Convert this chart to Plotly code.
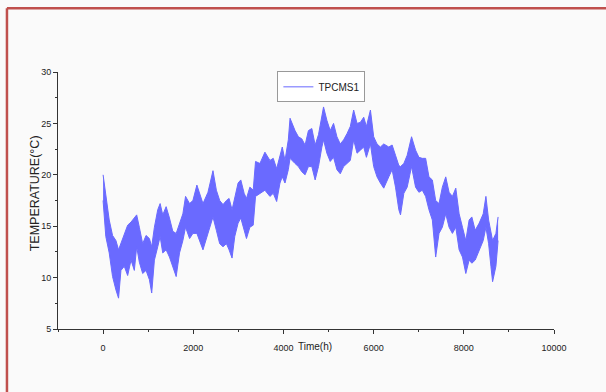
import plotly.graph_objects as go

# Sample times (hours) and the read daily high / low envelope of the TPCMS1 series (°C)
hours = [0, 60, 136, 210, 285, 343, 396, 470, 545, 619, 693, 745, 804, 878, 953, 1027, 1078,
         1138, 1212, 1265, 1323, 1398, 1472, 1546, 1621, 1695, 1769, 1829, 1918, 1992,
         2080, 2215, 2326, 2437, 2512, 2586, 2660, 2735, 2794, 2860, 2920, 2994, 3054, 3128,
         3180, 3255, 3329, 3381, 3478, 3589, 3700, 3774, 3849, 3923, 3974, 4034, 4108,
         4146, 4257, 4331, 4406, 4480, 4554, 4629, 4703, 4777, 4852, 4889, 4963, 5037, 5111,
         5186, 5260, 5334, 5409, 5483, 5557, 5632, 5706, 5780, 5840, 5929, 6001, 6075, 6150,
         6224, 6336, 6410, 6485, 6559, 6596, 6670, 6744, 6841, 6930, 7004, 7079, 7153, 7227,
         7302, 7376, 7450, 7524, 7599, 7673, 7747, 7822, 7896, 7970, 8044, 8118, 8178, 8252,
         8341, 8430, 8490, 8550, 8601, 8638, 8712, 8760]

temp_high = [20.0, 17.9, 15.6, 14.1, 13.6, 12.7, 13.3, 14.3, 15.1, 15.4, 15.8, 16.1, 14.9, 13.3,
             14.1, 13.8, 13.0, 14.9, 16.6, 17.2, 16.1, 16.9, 15.8, 14.5, 14.3, 15.3, 16.2, 17.9,
             17.2, 17.5, 19.0, 17.2, 18.3, 20.4, 18.5, 17.5, 17.1, 17.5, 17.7, 16.6, 17.7, 19.2,
             19.5, 18.2, 17.7, 18.8, 18.5, 21.3, 21.1, 22.2, 21.4, 21.6, 20.6, 21.9, 22.7, 21.4,
             23.4, 25.5, 24.3, 23.7, 23.5, 22.9, 24.3, 24.5, 22.9, 23.9, 25.5, 26.6, 25.3, 24.3,
             25.0, 23.7, 23.0, 23.4, 24.0, 24.7, 26.3, 25.0, 25.1, 25.6, 24.7, 26.3, 23.7, 23.0,
             22.7, 23.0, 22.7, 22.9, 21.9, 20.9, 20.8, 21.1, 21.9, 23.7, 22.4, 21.7, 21.6, 21.6,
             19.8, 19.5, 17.5, 17.2, 18.8, 19.8, 18.3, 17.9, 18.7, 16.2, 14.9, 13.6, 15.6, 15.9,
             14.6, 15.3, 16.2, 17.9, 15.6, 14.3, 13.6, 14.3, 15.9]

temp_low = [17.5, 14.0, 12.4, 10.1, 8.8, 8.0, 10.7, 11.1, 10.2, 11.7, 10.7, 13.0, 11.5, 10.4,
            10.7, 9.8, 8.5, 11.7, 13.0, 14.0, 12.4, 12.7, 12.0, 11.1, 10.1, 12.4, 13.6, 14.9,
            13.8, 14.3, 14.3, 12.7, 14.3, 15.9, 14.6, 13.3, 13.0, 13.3, 12.7, 11.9, 14.0, 15.3,
            15.8, 14.6, 13.8, 14.9, 15.1, 17.9, 18.2, 18.5, 17.9, 18.2, 17.4, 19.2, 19.8, 19.2,
            20.5, 21.6, 21.1, 20.8, 20.3, 20.0, 20.8, 20.8, 19.5, 20.8, 22.7, 23.4, 22.1, 21.3,
            21.7, 20.5, 20.1, 20.8, 21.1, 21.4, 23.4, 22.1, 22.4, 22.7, 21.7, 23.0, 20.8, 19.8,
            19.2, 18.7, 19.8, 20.5, 18.8, 16.6, 16.1, 18.2, 18.8, 20.8, 18.8, 18.3, 18.5, 17.9,
            16.6, 15.6, 12.0, 14.3, 14.9, 16.2, 14.9, 14.3, 14.9, 12.7, 12.0, 10.4, 11.7, 11.4,
            11.7, 12.7, 13.6, 14.9, 13.3, 11.1, 9.6, 11.1, 13.6]

series_name = "TPCMS1"
x_ticks = [0, 2000, 4000, 6000, 8000, 10000]
x_tick_labels = ["0", "2000", "4000", "6000", "8000", "10000"]
y_ticks = [5, 10, 15, 20, 25, 30]
y_tick_labels = ["5", "10", "15", "20", "25", "30"]

band = "#6a6aff"
sans = "Liberation Sans, Arial, sans-serif"

fig = go.Figure()
fig.add_trace(go.Scatter(x=hours, y=temp_low, mode="lines",
                         line=dict(color=band, width=1), showlegend=False, hoverinfo="skip"))
fig.add_trace(go.Scatter(x=hours, y=temp_high, mode="lines", fill="tonexty",
                         fillcolor=band, line=dict(color=band, width=1),
                         showlegend=False, name=series_name))
# legend entry (line style)
fig.add_trace(go.Scatter(x=[None], y=[None], mode="lines", name=series_name,
                         line=dict(color="#9a9aff", width=1.5)))

axis_common = dict(showline=True, linecolor="#333333", linewidth=1, ticks="outside",
                   ticklen=4, tickcolor="#333333", showgrid=False, zeroline=False,
                   tickfont=dict(family=sans, size=9, color="#222222"))

fig.update_layout(
    width=606, height=392,
    margin=dict(l=58, r=52, t=72, b=63),
    paper_bgcolor="#fafafa", plot_bgcolor="#fafafa",
    xaxis=dict(range=[-1000, 10000], tickvals=x_ticks, ticktext=x_tick_labels,
               ticklabelstandoff=6,
               minor=dict(dtick=1000, tick0=0, ticks="outside", ticklen=2, tickcolor="#333333"),
               **axis_common),
    yaxis=dict(range=[5, 30], tickvals=y_ticks, ticktext=y_tick_labels,
               ticklabelstandoff=0,
               minor=dict(dtick=2.5, tick0=0, ticks="outside", ticklen=2, tickcolor="#333333"),
               **axis_common),
    legend=dict(x=0.531, y=1.003, xanchor="center", yanchor="top",
                bgcolor="#ffffff", bordercolor="#999999", borderwidth=1,
                font=dict(family=sans, size=10, color="#222222"),
                itemwidth=30, tracegroupgap=0),
    showlegend=True,
)

fig.add_annotation(text="Time(h)", x=4700, xref="x", y=-0.068, yref="paper",
                   showarrow=False, yanchor="middle", xanchor="center",
                   font=dict(family=sans, size=10, color="#222222"))
fig.add_annotation(text="TEMPERATURE(°C)", x=-0.046, xref="paper", y=0.5286, yref="paper",
                   textangle=-90, showarrow=False, xanchor="center", yanchor="middle",
                   font=dict(family=sans, size=12.5, color="#222222"))

# red frame around the picture (top and left edges)
red = "#c0504d"
fig.add_shape(type="line", xref="paper", yref="paper", x0=-0.103, x1=1.11, y0=1.2476, y1=1.2476,
              line=dict(color=red, width=2.5))
fig.add_shape(type="line", xref="paper", yref="paper", x0=-0.1029, x1=-0.1029, y0=1.2476, y1=-0.25,
              line=dict(color=red, width=2.5))

fig.write_html("out.html")
